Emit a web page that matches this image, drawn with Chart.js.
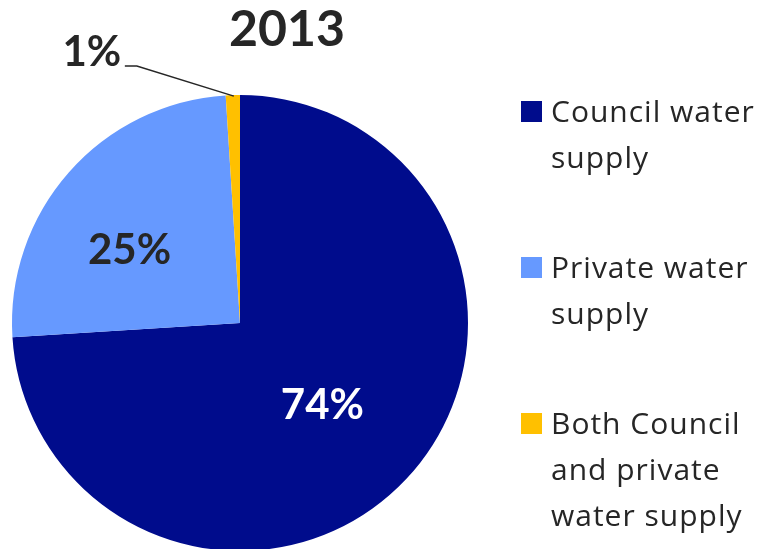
<!DOCTYPE html>
<html>
<head>
<meta charset="utf-8">
<script src="https://cdn.jsdelivr.net/npm/chart.js@4"></script>
<style>
  html, body { margin: 0; padding: 0; background: #fff; overflow: hidden; }
  #wrap { position: relative; width: 764px; height: 549px; overflow: hidden; }
  #legend { position: absolute; left: 521px; top: 0; font-family: "Open Sans", sans-serif; font-size: 30px; letter-spacing: 1px; line-height: 46px; color: #262626; }
  .item { position: absolute; left: 0; white-space: nowrap; }
  .box { position: absolute; left: 0; width: 21px; height: 21px; }
  .text { position: absolute; left: 30px; top: 0; }
</style>
</head>
<body>
<div id="wrap">
  <canvas id="myChart" width="764" height="600"></canvas>
  <div id="legend"></div>
</div>
<script>
const title = "2013";
const categories = ["Council water supply", "Private water supply", "Both Council and private water supply"];
const legendLines = [["Council water", "supply"], ["Private water", "supply"], ["Both Council", "and private", "water supply"]];
const shares = [74, 25, 1];
const colors = ["#000C8C", "#6699FF", "#FFC000"];
const labelColors = ["#ffffff", "#262626", "#262626"];

const textColor = "#262626";

// legend on the right, built from the same categories/colors
const legendEl = document.getElementById("legend");
const legendTops = [88, 244, 400];
legendLines.forEach((lines, i) => {
  const item = document.createElement("div");
  item.className = "item";
  item.style.top = legendTops[i] + "px";
  item.title = categories[i];
  item.innerHTML = `<span class="box" style="top:13px;background:${colors[i]}"></span>` +
    `<span class="text">${lines.join("<br>")}</span>`;
  legendEl.appendChild(item);
});

const pieLabels = {
  id: "pieLabels",
  afterDraw(chart) {
    const ctx = chart.ctx;
    const arcs = chart.getDatasetMeta(0).data;
    ctx.save();
    ctx.textAlign = "center";
    ctx.textBaseline = "middle";

    // title
    ctx.fillStyle = textColor;
    ctx.font = "bold 50px Lato";
    ctx.fillText(title, 287, 30);

    ctx.font = "bold 42px Lato";
    const fractions = [0.51, 0.58];
    const shifts = [0.03, -0.14];
    arcs.forEach((arc, i) => {
      const { x, y, startAngle, endAngle, outerRadius } = arc.getProps(["x", "y", "startAngle", "endAngle", "outerRadius"], true);
      const mid = (startAngle + endAngle) / 2;
      const text = shares[i] + "%";
      if (i < 2) {
        const r = outerRadius * fractions[i];
        const a = mid + shifts[i];
        ctx.fillStyle = labelColors[i];
        ctx.fillText(text, x + Math.cos(a) * r, y + Math.sin(a) * r);
      } else {
        // small slice: callout with leader line
        const ox = x + Math.cos(mid) * outerRadius;
        const oy = y + Math.sin(mid) * outerRadius;
        const lx = ox - 141, ly = oy - 43;
        ctx.strokeStyle = textColor;
        ctx.lineWidth = 1.5;
        ctx.beginPath();
        ctx.moveTo(ox + 1, oy + 1);
        ctx.lineTo(lx + 45, ly + 14);
        ctx.lineTo(lx + 33, ly + 14);
        ctx.stroke();
        ctx.fillStyle = labelColors[i];
        ctx.fillText(text, lx, ly);
      }
    });
    ctx.restore();
  }
};

new Chart(document.getElementById("myChart").getContext("2d"), {
  type: "pie",
  data: {
    labels: categories,
    datasets: [{
      data: shares,
      backgroundColor: colors,
      borderWidth: 0,
      hoverOffset: 0
    }]
  },
  options: {
    responsive: false,
    animation: false,
    layout: { padding: { left: 12, right: 296, top: 95, bottom: 49 } },
    plugins: {
      legend: { display: false },
      tooltip: { enabled: false }
    }
  },
  plugins: [pieLabels]
});
</script>
</body>
</html>
